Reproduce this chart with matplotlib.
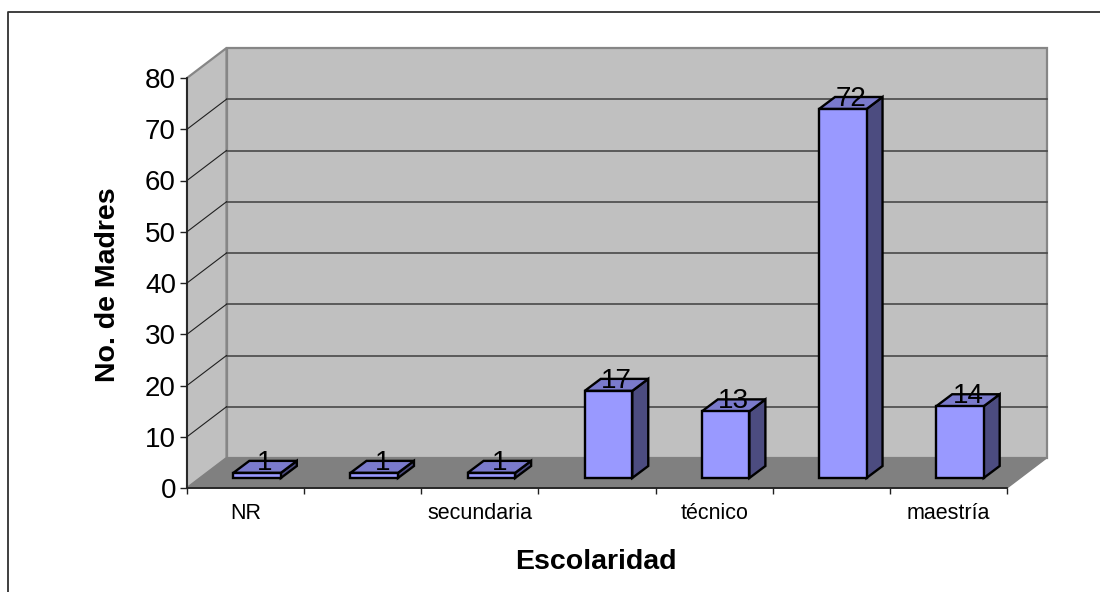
import matplotlib
matplotlib.use("Agg")
import matplotlib.pyplot as plt
from matplotlib.patches import Polygon
from matplotlib.lines import Line2D

plt.rcParams['font.family'] = ['Liberation Sans', 'DejaVu Sans']

categories = ["NR", "", "secundaria", "", "técnico", "", "maestría"]
values = [1, 1, 1, 17, 13, 72, 14]
yticks = [0, 10, 20, 30, 40, 50, 60, 70, 80]
xlabel = "Escolaridad"
ylabel = "No. de Madres"

W, H = 1100, 592
fig = plt.figure(figsize=(W / 100, H / 100), dpi=100, facecolor="white")
L, R, T, B = 187, 1007, 78, 488
ax = fig.add_axes([L / W, 1 - B / H, (R - L) / W, (B - T) / H], facecolor="none")
n = len(categories)
ax.set_xlim(0, n)
ax.set_ylim(0, 80)
ux = (R - L) / n   # px per category
uy = (B - T) / 80  # px per value

def dx(px):
    return px / ux

WALL_DX, WALL_DY = 39.5, 30
BAR_DX, BAR_DY = 11.5, 10
BAR_W = 47.5
BAR_DEPTH_X, BAR_DEPTH_Y = 16, 12

# walls and floor
wx, wy = dx(WALL_DX), WALL_DY / uy
ax.add_patch(Polygon([(wx, wy), (n + wx, wy), (n + wx, 80 + wy), (wx, 80 + wy)],
                     closed=True, fc="#C0C0C0", ec="#868686", lw=1.6, clip_on=False, zorder=1))
ax.add_patch(Polygon([(0, 0), (wx, wy), (wx, 80 + wy), (0, 80)],
                     closed=True, fc="#C0C0C0", ec="#868686", lw=1.6, clip_on=False, zorder=1))
ax.add_patch(Polygon([(0, 0), (n, 0), (n + wx, wy), (wx, wy)],
                     closed=True, fc="#808080", ec="#808080", lw=1, clip_on=False, zorder=1.5))

# gridlines
for v in yticks[1:-1]:
    ax.plot([wx, n + wx], [v + wy, v + wy], color="#484848", lw=1.2, clip_on=False, zorder=2)
    ax.plot([0, wx], [v, v + wy], color="#202020", lw=0.8, clip_on=False, zorder=2)

# bars
bw = BAR_W / ux
off_x, off_y = dx(BAR_DX), BAR_DY / uy
ddx, ddy = dx(BAR_DEPTH_X), BAR_DEPTH_Y / uy
for i, v in enumerate(values):
    x0 = i + 0.5 + off_x - bw / 2
    x1 = x0 + bw
    y0 = off_y
    y1 = v + off_y
    edge = dict(ec="black", lw=1.7, joinstyle="miter", clip_on=False, zorder=3)
    ax.add_patch(Polygon([(x1, y0), (x1 + ddx, y0 + ddy), (x1 + ddx, y1 + ddy), (x1, y1)],
                         closed=True, fc="#4C4C80", **edge))
    ax.add_patch(Polygon([(x0, y1), (x1, y1), (x1 + ddx, y1 + ddy), (x0 + ddx, y1 + ddy)],
                         closed=True, fc="#7A7ACC", **edge))
    ax.bar(x0, v, width=bw, bottom=y0, align="edge", color="#9999FF", edgecolor="black",
           linewidth=1.7, clip_on=False, zorder=3.2)
    ax.annotate(str(v), (x0 + bw / 2 + ddx / 2, y1), xytext=(0, 7.2),
                textcoords="offset points", ha="center", va="center",
                fontsize=20, color="black", zorder=5, annotation_clip=False)

# axes
for s in ("top", "right"):
    ax.spines[s].set_visible(False)
for s in ("left", "bottom"):
    ax.spines[s].set_color("#202020")
    ax.spines[s].set_linewidth(1.3)
    ax.spines[s].set_zorder(2.5)
ax.set_yticks(yticks)
ax.set_yticklabels([str(v) for v in yticks], fontsize=20)
ax.set_xticks(range(n + 1))
ax.set_xticklabels([""] * (n + 1))
ax.set_xticks([i + 0.5 for i in range(n)], minor=True)
ax.set_xticklabels(categories, minor=True, fontsize=15.5)
ax.tick_params(axis="x", which="major", length=4.5, width=1, color="#202020")
ax.tick_params(axis="y", which="major", length=5, width=1, color="#202020", pad=3)
ax.tick_params(axis="x", which="minor", length=0, pad=11)

fig.text(596 / W, 1 - 562 / H, xlabel, fontsize=20.5, fontweight="bold", ha="center", va="center")
fig.text(108 / W, 1 - 285 / H, ylabel, fontsize=20.5, fontweight="bold", rotation=90, ha="center", va="center")

# chart area border
fig.add_artist(Line2D([8 / W, 8 / W, 1], [0, 1 - 12 / H, 1 - 12 / H], color="#303030", lw=1.3))

fig.savefig("out.png", dpi=100)
